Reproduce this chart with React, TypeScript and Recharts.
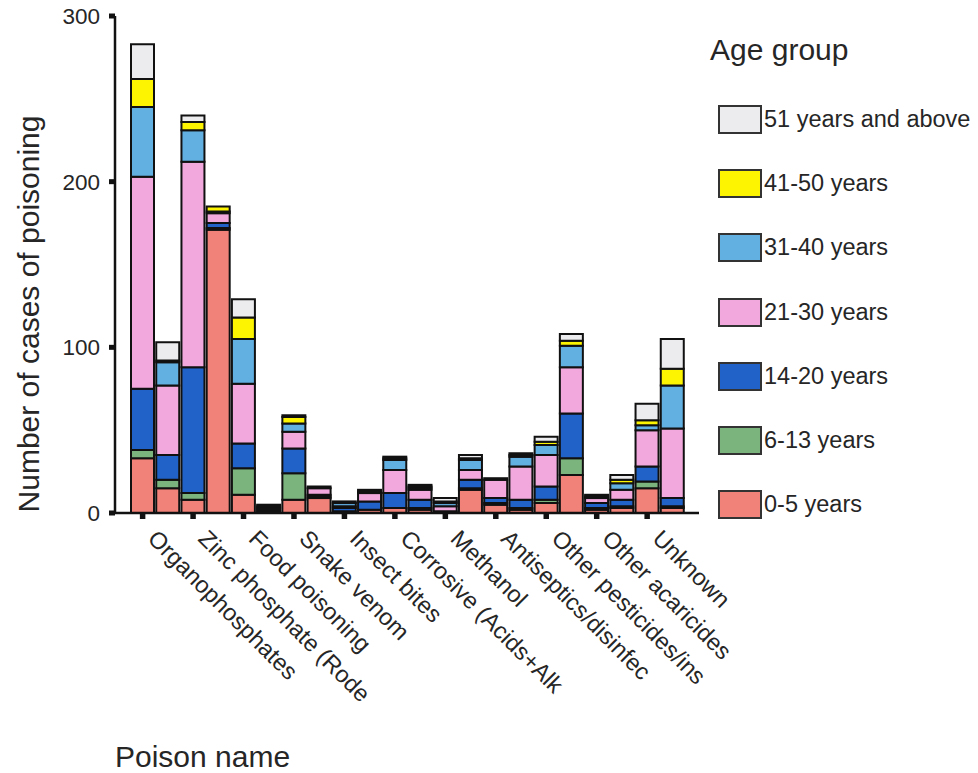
import React from "react";
import {
  BarChart,
  Bar,
  XAxis,
  YAxis,
  Legend,
  Label,
} from "recharts";

// 22 poison categories; the source chart only prints every other name
const poisons = [
  "Organophosphates", "(unlabelled 2)",
  "Zinc phosphate (Rode", "(unlabelled 4)",
  "Food poisoning", "(unlabelled 6)",
  "Snake venom", "(unlabelled 8)",
  "Insect bites", "(unlabelled 10)",
  "Corrosive (Acids+Alk", "(unlabelled 12)",
  "Methanol", "(unlabelled 14)",
  "Antiseptics/disinfec", "(unlabelled 16)",
  "Other pesticides/ins", "(unlabelled 18)",
  "Other acaricides", "(unlabelled 20)",
  "Unknown", "(unlabelled 22)",
];

const age0to5 = [33, 15, 8, 171, 11, 1, 8, 9, 1, 2, 3, 2, 0, 14, 5, 2, 6, 23, 2, 3, 15, 3];
const age6to13 = [5, 5, 4, 1, 16, 1, 16, 1, 0, 0, 0, 1, 0, 1, 1, 1, 2, 10, 1, 1, 4, 1];
const age14to20 = [37, 15, 76, 3, 15, 1, 15, 1, 2, 5, 9, 5, 1, 5, 3, 5, 8, 27, 3, 4, 9, 5];
const age21to30 = [128, 42, 124, 6, 36, 1, 10, 4, 1, 5, 14, 6, 3, 6, 11, 20, 19, 28, 3, 6, 22, 42];
const age31to40 = [42, 14, 19, 1, 27, 1, 5, 1, 2, 1, 6, 1, 2, 6, 0, 6, 6, 13, 1, 4, 3, 26];
const age41to50 = [17, 1, 5, 3, 13, 0, 4, 0, 0, 0, 1, 1, 1, 1, 0, 1, 2, 3, 0, 2, 3, 10];
const age51plus = [21, 11, 4, 0, 11, 0, 1, 0, 1, 1, 1, 1, 2, 2, 1, 1, 3, 4, 1, 3, 10, 18];

const yTicks = [0, 100, 200, 300];

const series = [
  { key: "a0", name: "0-5 years", values: age0to5, color: "#f18279" },
  { key: "a6", name: "6-13 years", values: age6to13, color: "#7cb47e" },
  { key: "a14", name: "14-20 years", values: age14to20, color: "#2062c8" },
  { key: "a21", name: "21-30 years", values: age21to30, color: "#f2a8dc" },
  { key: "a31", name: "31-40 years", values: age31to40, color: "#62afe2" },
  { key: "a41", name: "41-50 years", values: age41to50, color: "#fcf400" },
  { key: "a51", name: "51 years and above", values: age51plus, color: "#ececef" },
];

const data = poisons.map((name, i) => {
  const row: Record<string, string | number> = { name };
  series.forEach((s) => {
    row[s.key] = s.values[i];
  });
  return row;
});

const FONT = "'Liberation Sans', Arial, sans-serif";
const INK = "#262626";

// legend lists the oldest group first, like the stack reads top-down
const AgeLegend = () => {
  const items = [...series].reverse();
  return (
    <div style={{ fontFamily: FONT, color: INK, paddingTop: 32 }}>
      <div style={{ fontSize: 30, height: 36, lineHeight: "36px", paddingLeft: 10 }}>
        Age group
      </div>
      <div style={{ height: 19 }} />
      {items.map((it) => (
        <div
          key={it.key}
          style={{ height: 64.3, display: "flex", alignItems: "center", paddingLeft: 18 }}
        >
          <div
            style={{
              width: 40,
              height: 25,
              background: it.color,
              border: "2px solid #333",
              marginRight: 2,
            }}
          />
          <span style={{ fontSize: 23.5, whiteSpace: "nowrap" }}>{it.name}</span>
        </div>
      ))}
    </div>
  );
};

const PoisonTick = ({ x, y, payload }: any) => {
  const bx = x + 4;
  const by = y + 21;
  return (
    <text
      x={bx}
      y={by}
      transform={`rotate(45 ${bx} ${by})`}
      fontSize={23.5}
      fill={INK}
      fontFamily={FONT}
    >
      {payload.value}
    </text>
  );
};

export default function App() {
  return (
    <div style={{ position: "absolute", left: 0, top: 0, background: "#fff" }}>
      <BarChart
        width={978}
        height={773}
        data={data}
        margin={{ top: 16, right: 279, left: 0, bottom: 60 }}
        barCategoryGap={1}
      >
        <XAxis
          dataKey="name"
          interval={1}
          height={200}
          padding={{ left: 15, right: 14 }}
          axisLine={{ stroke: "#111", strokeWidth: 2.5 }}
          tickLine={{ stroke: "#111", strokeWidth: 5.5 }}
          tickSize={6}
          tickMargin={0}
          tick={<PoisonTick />}
        >
          <Label
            content={() => (
              <text x={115} y={756} fontSize={30} fill={INK} fontFamily={FONT} dominantBaseline="central">
                Poison name
              </text>
            )}
          />
        </XAxis>
        <XAxis
          xAxisId="top"
          dataKey="name"
          orientation="top"
          height={0}
          tick={false}
          tickLine={false}
          axisLine={{ stroke: "#111", strokeWidth: 1.5 }}
        />
        <YAxis
          width={115}
          domain={[0, 300]}
          ticks={yTicks}
          axisLine={{ stroke: "#111", strokeWidth: 2.5 }}
          tickLine={{ stroke: "#111", strokeWidth: 5 }}
          tickSize={6}
          tickMargin={9}
          tick={{ fontSize: 22.5, fill: INK, fontFamily: FONT }}
        >
          <Label
            content={() => (
              <text
                x={28}
                y={314}
                transform="rotate(-90 28 314)"
                textAnchor="middle"
                dominantBaseline="central"
                fontSize={30}
                fill={INK}
                fontFamily={FONT}
              >
                Number of cases of poisoning
              </text>
            )}
          />
        </YAxis>
        <YAxis
          yAxisId="right"
          orientation="right"
          width={0}
          domain={[0, 300]}
          tick={false}
          tickLine={false}
          axisLine={{ stroke: "#111", strokeWidth: 1.5 }}
        />
        <Legend
          layout="vertical"
          align="center"
          verticalAlign="middle"
          content={<AgeLegend />}
          wrapperStyle={{ left: 700, top: 0, width: 278, height: 773 }}
        />
        {series.map((s) => (
          <Bar
            key={s.key}
            dataKey={s.key}
            name={s.name}
            stackId="age"
            fill={s.color}
            stroke="#111"
            strokeWidth={2}
            isAnimationActive={false}
          />
        ))}
      </BarChart>
    </div>
  );
}
